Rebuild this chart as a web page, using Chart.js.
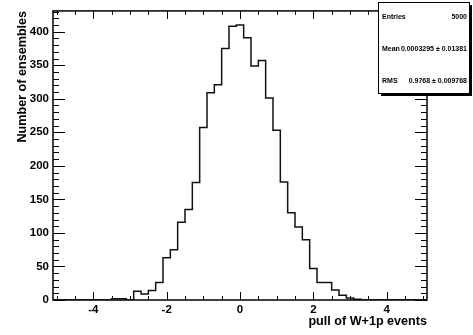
<!DOCTYPE html>
<html>
<head>
<meta charset="utf-8">
<script src="https://cdn.jsdelivr.net/npm/chart.js@4.4.0/dist/chart.umd.min.js"></script>
<style>
html, body { margin: 0; padding: 0; background: #fff; }
#wrap { width: 473px; height: 335px; }
</style>
</head>
<body>
<div id="wrap"><canvas id="pull-chart" width="473" height="335"></canvas></div>
<script>
// Histogram bins (centers, width 0.2) and counts
const binCenters = [-5.0, -4.8, -4.6, -4.4, -4.2, -4.0, -3.8, -3.6, -3.4, -3.2,
                    -3.0, -2.8, -2.6, -2.4, -2.2, -2.0, -1.8, -1.6, -1.4, -1.2,
                    -1.0, -0.8, -0.6, -0.4, -0.2, 0.0, 0.2, 0.4, 0.6, 0.8,
                    1.0, 1.2, 1.4, 1.6, 1.8, 2.0, 2.2, 2.4, 2.6, 2.8,
                    3.0, 3.2, 3.4, 3.6, 3.8, 4.0, 4.2, 4.4, 4.6, 4.8, 5.0];
const counts = [0, 0, 0, 0, 0, 0, 0, 0, 2, 2,
                0, 13, 9, 14, 26, 63, 75, 116, 135, 175,
                257, 309, 321, 375, 408, 410, 391, 349, 357, 301,
                253, 176, 130, 109, 90, 47, 26, 26, 15, 7,
                3, 1, 0, 0, 0, 0, 0, 0, 0, 0, 0];
const binWidth = 0.2;
const xTicks = [-4, -2, 0, 2, 4];
const yTicks = [0, 50, 100, 150, 200, 250, 300, 350, 400];
const statsRows = [
    ['Entries', '5000'],
    ['Mean', '0.0003295 \u00b1 0.01381'],
    ['RMS', '0.9768 \u00b1 0.009768']
];

const FONT = '"Liberation Sans", Arial, Helvetica, sans-serif';

// step outline: one point per low edge, plus the last high edge
const stepPoints = binCenters.map((c, i) => ({ x: c - binWidth / 2, y: counts[i] }));
stepPoints.push({ x: binCenters[binCenters.length - 1] + binWidth / 2, y: counts[counts.length - 1] });

// ROOT-like frame, inward ticks and stats box
const rootFrame = {
    id: 'rootFrame',
    afterDraw(chart) {
        const ctx = chart.ctx;
        const a = chart.chartArea;
        const xs = chart.scales.x, ys = chart.scales.y;
        ctx.save();
        ctx.strokeStyle = '#000';
        ctx.lineWidth = 1;
        ctx.beginPath();
        for (let v = -5; v <= 5.001; v += 0.5) {
            const px = Math.round(xs.getPixelForValue(v)) + 0.5;
            const len = xTicks.includes(Math.round(v * 10) / 10) ? 8 : 4;
            ctx.moveTo(px, a.bottom); ctx.lineTo(px, a.bottom - len);
            ctx.moveTo(px, a.top); ctx.lineTo(px, a.top + len);
        }
        for (let v = 0; v <= 430; v += 10) {
            const py = Math.round(ys.getPixelForValue(v)) + 0.5;
            const len = v % 50 === 0 ? 12 : 6;
            ctx.moveTo(a.left, py); ctx.lineTo(a.left + len, py);
            ctx.moveTo(a.right, py); ctx.lineTo(a.right - len, py);
        }
        ctx.stroke();
        ctx.lineWidth = 1.5;
        ctx.strokeRect(a.left, a.top, a.right - a.left, a.bottom - a.top);

        // stats box with shadow
        const bx = 378, by = 2, bw = 91, bh = 91;
        ctx.fillStyle = '#000';
        ctx.fillRect(bx + 3, by + 3, bw, bh);
        ctx.fillStyle = '#fff';
        ctx.fillRect(bx, by, bw, bh);
        ctx.lineWidth = 1;
        ctx.strokeRect(bx + 0.5, by + 0.5, bw, bh);
        ctx.fillStyle = '#000';
        ctx.font = 'bold 7px ' + FONT;
        ctx.textBaseline = 'middle';
        statsRows.forEach((r, i) => {
            const ty = 17 + i * 32;
            ctx.textAlign = 'left';
            ctx.fillText(r[0], bx + 4, ty);
            ctx.textAlign = 'right';
            ctx.fillText(r[1], bx + bw - 2, ty);
        });
        ctx.restore();
    }
};

const ctx = document.getElementById('pull-chart').getContext('2d');
const pullChart = new Chart(ctx, {
    type: 'line',
    data: {
        datasets: [{
            data: stepPoints,
            stepped: true,
            borderColor: '#111',
            borderWidth: 1.5,
            pointRadius: 0,
            fill: false
        }]
    },
    options: {
        responsive: false,
        devicePixelRatio: 1,
        animation: false,
        layout: { padding: { top: 10, right: 46, left: 0, bottom: 0 } },
        plugins: { legend: { display: false }, tooltip: { enabled: false } },
        scales: {
            x: {
                type: 'linear',
                min: -5.1,
                max: 5.1,
                grid: { display: false, drawTicks: false },
                border: { display: false },
                afterBuildTicks: s => { s.ticks = xTicks.map(v => ({ value: v })); },
                afterFit: s => { s.height = 35; },
                ticks: {
                    color: '#000',
                    padding: 3,
                    maxRotation: 0,
                    font: { family: FONT, size: 11.5, weight: 'bold' },
                    callback: v => String(v)
                },
                title: {
                    display: true,
                    text: 'pull of W+1p events',
                    align: 'end',
                    color: '#000',
                    padding: { top: 0, bottom: 6 },
                    font: { family: FONT, size: 12.6, weight: 'bold' }
                }
            },
            y: {
                min: 0,
                max: 431,
                grid: { display: false, drawTicks: false },
                border: { display: false },
                afterBuildTicks: s => { s.ticks = yTicks.map(v => ({ value: v })); },
                afterFit: s => { s.width = 53; },
                ticks: {
                    color: '#000',
                    padding: 4,
                    font: { family: FONT, size: 11.5, weight: 'bold' },
                    callback: v => String(v)
                },
                title: {
                    display: true,
                    text: 'Number of ensembles',
                    align: 'end',
                    color: '#000',
                    padding: { top: 15, bottom: 0 },
                    font: { family: FONT, size: 12.6, weight: 'bold' }
                }
            }
        }
    },
    plugins: [rootFrame]
});
</script>
</body>
</html>
